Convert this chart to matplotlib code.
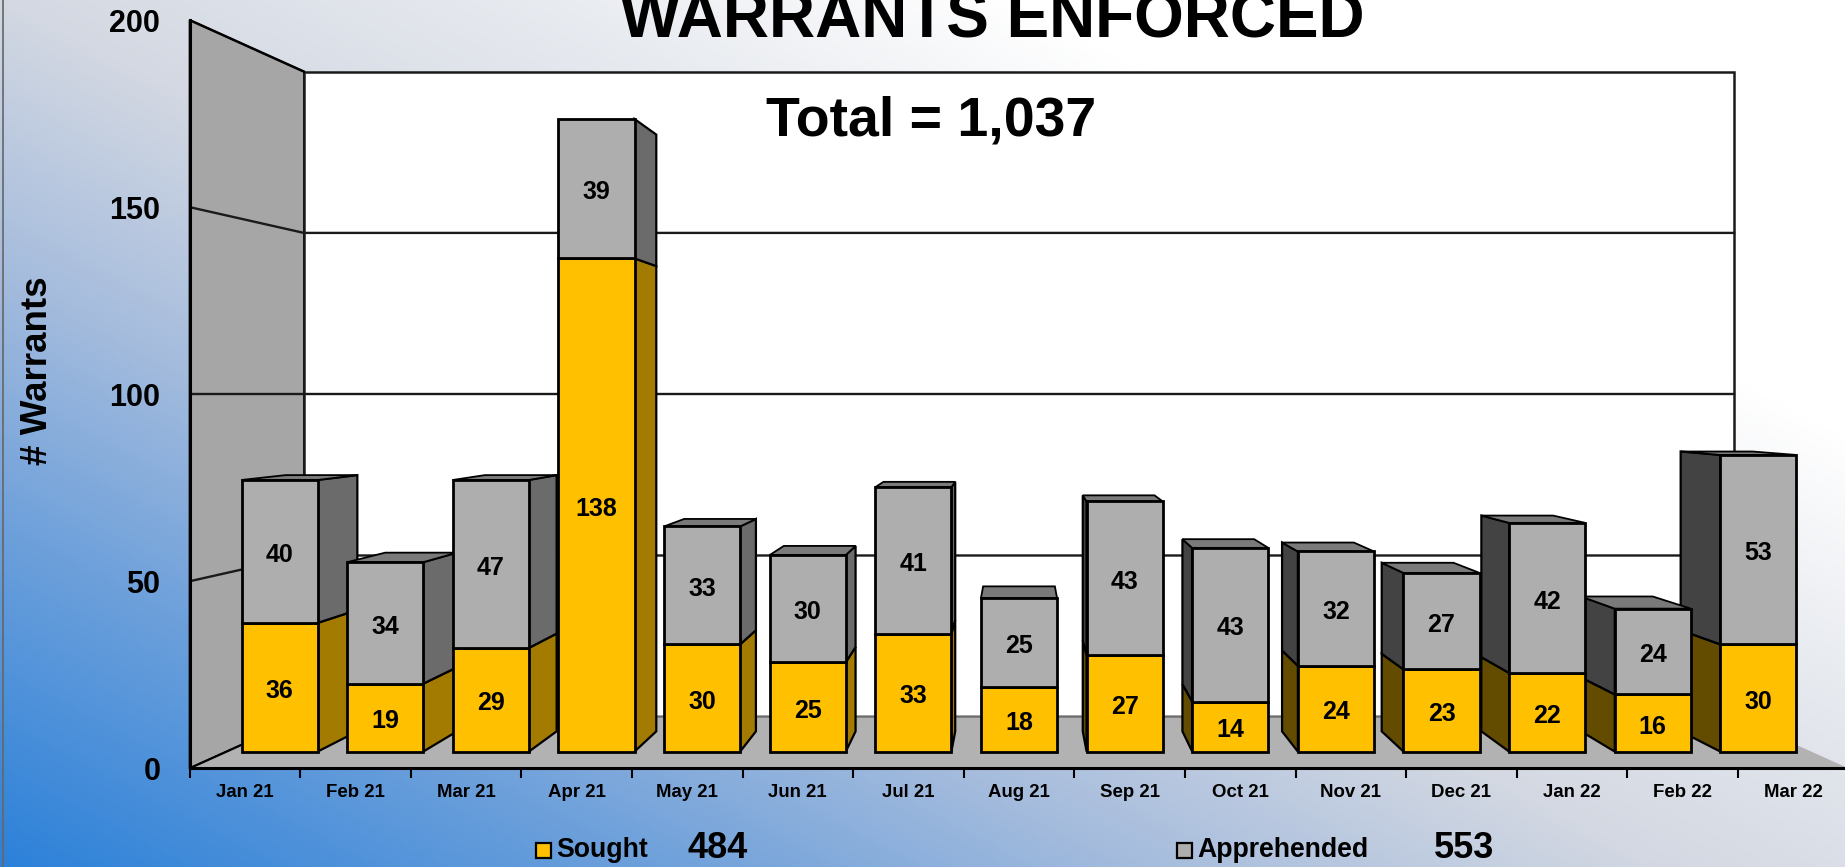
import numpy as np
import matplotlib
matplotlib.use("Agg")
import matplotlib.pyplot as plt
from matplotlib.colors import LinearSegmentedColormap
from matplotlib.patches import Rectangle

plt.rcParams['font.family'] = ['Liberation Sans', 'DejaVu Sans']

months = ["Jan 21", "Feb 21", "Mar 21", "Apr 21", "May 21", "Jun 21", "Jul 21", "Aug 21",
          "Sep 21", "Oct 21", "Nov 21", "Dec 21", "Jan 22", "Feb 22", "Mar 22"]
sought = [36, 19, 29, 138, 30, 25, 33, 18, 27, 14, 24, 23, 22, 16, 30]
apprehended = [40, 34, 47, 39, 33, 30, 41, 25, 43, 43, 32, 27, 42, 24, 53]
y_ticks = [0, 50, 100, 150, 200]

W, H = 1845, 867
fig = plt.figure(figsize=(W / 100, H / 100), dpi=100)

# background gradient
bg = fig.add_axes([0, 0, 1, 1], zorder=-5)
bg.set_axis_off()
xx, yy = np.meshgrid(np.linspace(0, 1, 400), np.linspace(0, 1, 300))
t = 1.0 * xx + 0.9 * yy
cmap = LinearSegmentedColormap.from_list("bg", [(0, "#2C81D9"), (0.35 / 1.45, "#6DA0DB"), (0.62 / 1.45, "#A5BCDD"),
                                                (0.9 / 1.45, "#D3D8E2"), (1.2 / 1.45, "#E8EBF0"), (1, "#FFFFFF")])
bg.imshow(t, origin="lower", extent=[0, 1, 0, 1], aspect="auto", cmap=cmap, vmin=0, vmax=1.45)
bg.axvline(0.0016, color="#666666", lw=1.2)

LEFT, RIGHT, BOTTOM, TOP = 189.5, 1848.5, 768.4, 20.0
ax = fig.add_axes([LEFT / W, 1 - BOTTOM / H, (RIGHT - LEFT) / W, (BOTTOM - TOP) / H])
ax.set_xlim(0, 15)
ax.set_ylim(0, 200)
ax.patch.set_alpha(0)

XV, YV, K = 7.5, 100.0, 0.16
Z_BAR_FRONT, Z_BAR_BACK = 0.294, 0.687
HALF = 0.36


def proj(x, y, z):
    s = 1 / (1 + K * z)
    return XV + (x - XV) * s, YV + (y - YV) * s


def face(pts, color, zo, lw=1.6, ec="black"):
    p = [proj(*q) for q in pts]
    ax.fill([a for a, _ in p], [b for _, b in p], facecolor=color, edgecolor=ec, lw=lw,
            zorder=zo, joinstyle="miter", clip_on=False)


# walls and floor
face([(0, 0, 0), (0, 200, 0), (0, 200, 1), (0, 0, 1)], "#A6A6A6", 1, lw=1.2)
face([(0, 0, 1), (0, 200, 1), (15, 200, 1), (15, 0, 1)], "#FFFFFF", 1, lw=1.8, ec="#1A1A1A")
face([(0, 0, 0), (0, 0, 1), (15, 0, 1), (15, 0, 0)], "#B2B2B2", 2, lw=0, ec="none")
for v in y_ticks[:-1]:
    pts = [proj(0, v, 0), proj(0, v, 1), proj(15, v, 1)]
    ax.plot([a for a, _ in pts], [b for _, b in pts], color="#1A1A1A", lw=1.7, zorder=1.5)
pts = [proj(0, 0, 1), proj(15, 0, 1)]
ax.plot([a for a, _ in pts], [b for _, b in pts], color="#777777", lw=1.2, zorder=2.5)
pts = [proj(0, 0, 0), proj(0, 0, 1)]
ax.plot([a for a, _ in pts], [b for _, b in pts], color="black", lw=1.5, zorder=2.5)
pts = [proj(0, 200, 0), proj(0, 200, 1)]
ax.plot([a for a, _ in pts], [b for _, b in pts], color="black", lw=1.8, zorder=2.5)


def box(c, y0, y1, front, side_r, side_l, zo, top=False):
    x0, x1 = c - HALF, c + HALF
    zf, zb = Z_BAR_FRONT, Z_BAR_BACK
    if x1 < XV:
        face([(x1, y0, zf), (x1, y1, zf), (x1, y1, zb), (x1, y0, zb)], side_r, zo)
    if x0 > XV:
        face([(x0, y0, zf), (x0, y1, zf), (x0, y1, zb), (x0, y0, zb)], side_l, zo)
    if top and y1 < YV:
        face([(x0, y1, zf), (x1, y1, zf), (x1, y1, zb), (x0, y1, zb)], "#7A7A7A", zo + 0.1, lw=1.3)
    face([(x0, y0, zf), (x1, y0, zf), (x1, y1, zf), (x0, y1, zf)], front, zo + 0.2, lw=2.0)


order = sorted(range(len(months)), key=lambda i: -abs(i + 0.5 - XV))
for rank, i in enumerate(order):
    c = i + 0.5
    zo = 5 + rank
    s, a = sought[i], apprehended[i]
    box(c, 0, s, "#FFC000", "#A37B00", "#634C00", zo)
    box(c, s, s + a, "#AEAEAE", "#6B6B6B", "#434343", zo + 0.3, top=True)
    for mid, val in ((s / 2, s), (s + a / 2, a)):
        px, py = proj(c, mid, Z_BAR_FRONT)
        ax.annotate(str(val), (px, py), xytext=(0, -2.6), textcoords="offset points",
                    ha="center", va="center", fontsize=18, fontweight="bold",
                    color="black", zorder=zo + 0.8)

# axes
for side in ("top", "right"):
    ax.spines[side].set_visible(False)
for side in ("left", "bottom"):
    ax.spines[side].set_linewidth(2.2)
    ax.spines[side].set_zorder(3)
ax.set_yticks(y_ticks)
ax.set_yticklabels([str(v) for v in y_ticks], fontsize=22, fontweight="bold")
ax.tick_params(axis="y", length=0, pad=21)
ax.set_xticks(np.arange(0, 16))
ax.set_xticklabels([])
ax.tick_params(axis="x", which="major", length=7, width=1.5, color="black")
ax.set_xticks(np.arange(len(months)) + 0.5, minor=True)
ax.set_xticklabels(months, minor=True, fontsize=13.4, fontweight="bold")
ax.tick_params(axis="x", which="minor", length=0, pad=11)
ax.set_ylabel("# Warrants", fontsize=26.5, fontweight="bold")
ax.yaxis.set_label_coords((55.5 - LEFT) / (RIGHT - LEFT), (768.4 - 371) / (768.4 - 20))

# titles
fig.text(992 / W, 1 - 21 / H, "WARRANTS ENFORCED", ha="center", va="center", fontsize=46, fontweight="bold")
fig.text(931 / W, 1 - 122 / H, f"Total = {sum(sought) + sum(apprehended):,}", ha="center", va="center",
         fontsize=40, fontweight="bold")

# legend
LEG_Y = 850
for mx, col, name, total, nx, tx in ((536, "#FFC000", "Sought", sum(sought), 556, 688),
                                     (1177, "#AEAEAE", "Apprehended", sum(apprehended), 1197, 1434)):
    fig.add_artist(Rectangle((mx / W, 1 - (LEG_Y + 8) / H), 15 / W, 15 / H, transform=fig.transFigure,
                             facecolor=col, edgecolor="black", lw=1.6))
    fig.text(nx / W, 1 - LEG_Y / H, name, ha="left", va="center", fontsize=19.2, fontweight="bold")
    fig.text(tx / W, 1 - (LEG_Y - 1) / H, str(total), ha="left", va="center", fontsize=26, fontweight="bold")

fig.savefig("out.png", dpi=100)
